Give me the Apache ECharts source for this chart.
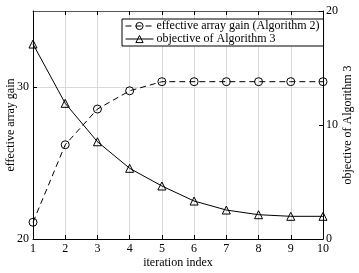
<!DOCTYPE html>
<html><head><meta charset="utf-8">
<script src="https://cdn.jsdelivr.net/npm/echarts@6/dist/echarts.min.js"></script>
<style>html,body{margin:0;padding:0;background:#fff}#c{width:359px;height:273px}</style>
</head><body><div id="c"></div>
<script>
const iterations = [1,2,3,4,5,6,7,8,9,10];
const arrayGain = [21.1, 26.2, 28.55, 29.75, 30.35, 30.35, 30.35, 30.35, 30.35, 30.35];
const objective = [17.1, 11.9, 8.53, 6.2, 4.65, 3.33, 2.54, 2.13, 1.99, 1.99];
const seriesNames = ['effective array gain (Algorithm 2)', 'objective of Algorithm 3'];

const font = 'Liberation Serif';
const chart = echarts.init(document.getElementById('c'), null, {renderer:'canvas'});
const axisLine = {show:true, lineStyle:{color:'#000', width:1}};
chart.setOption({
  animation:false,
  grid:{left:33, right:36, top:11, bottom:34, outerBoundsMode:'none', containLabel:false},
  legend:{
    left:122, top:19, orient:'vertical', itemGap:1, itemWidth:28, itemHeight:9,
    padding:[1,4,1,3], borderColor:'#000', borderWidth:1, backgroundColor:'#fff',
    textStyle:{fontFamily:font, fontSize:12, color:'#000', padding:[0,0,0,-2]},
    itemStyle:{borderWidth:1}, lineStyle:{width:1},
    data: seriesNames
  },
  xAxis:[{
    type:'value', min:1, max:10, interval:1, position:'bottom',
    name:'iteration index', nameLocation:'middle', nameGap:18, nameMoveOverlap:false,
    nameTextStyle:{fontFamily:font, fontSize:12, color:'#000'},
    axisLine:axisLine, axisTick:{inside:true, length:4, lineStyle:{color:'#000'}},
    axisLabel:{fontFamily:font, fontSize:12, color:'#000', margin:4},
    splitLine:{show:true, lineStyle:{color:'#d9d9d9', width:1}}
  },{
    type:'value', min:1, max:10, interval:1, position:'top',
    axisLine:{show:true, lineStyle:{color:'#555', width:1}},
    axisTick:{inside:true, length:4, lineStyle:{color:'#000'}},
    axisLabel:{show:false}, splitLine:{show:false}
  }],
  yAxis:[{
    type:'value', min:20, max:35, interval:10, position:'left',
    name:'effective array gain', nameLocation:'middle', nameGap:16, nameMoveOverlap:false,
    nameTextStyle:{fontFamily:font, fontSize:12, color:'#000'},
    axisLine:axisLine, axisTick:{show:true, inside:true, length:4, lineStyle:{color:'#000'}},
    axisLabel:{fontFamily:font, fontSize:12, color:'#000', margin:4, showMaxLabel:false},
    splitLine:{show:true, lineStyle:{color:'#d9d9d9', width:1}}
  },{
    type:'value', min:0, max:20, interval:10, position:'right',
    name:'objective of Algorithm 3', nameLocation:'middle', nameGap:19, nameRotate:90, nameMoveOverlap:false,
    nameTextStyle:{fontFamily:font, fontSize:12, color:'#000'},
    axisLine:axisLine, axisTick:{show:true, inside:true, length:4, lineStyle:{color:'#000'}},
    axisLabel:{fontFamily:font, fontSize:12, color:'#000', margin:3},
    splitLine:{show:false}
  }],
  series:[{
    name:seriesNames[0], type:'line', xAxisIndex:0, yAxisIndex:0,
    data: iterations.map((x,i)=>[x, arrayGain[i]]),
    symbol:'circle', symbolSize:8,
    lineStyle:{color:'#000', width:1, type:[6,4]},
    itemStyle:{color:'rgba(0,0,0,0)', borderColor:'#000', borderWidth:1}
  },{
    name:seriesNames[1], type:'line', xAxisIndex:0, yAxisIndex:1,
    data: iterations.map((x,i)=>[x, objective[i]]),
    symbol:'triangle', symbolSize:8,
    lineStyle:{color:'#000', width:1},
    itemStyle:{color:'rgba(0,0,0,0)', borderColor:'#000', borderWidth:1}
  }]
});
</script></body></html>
